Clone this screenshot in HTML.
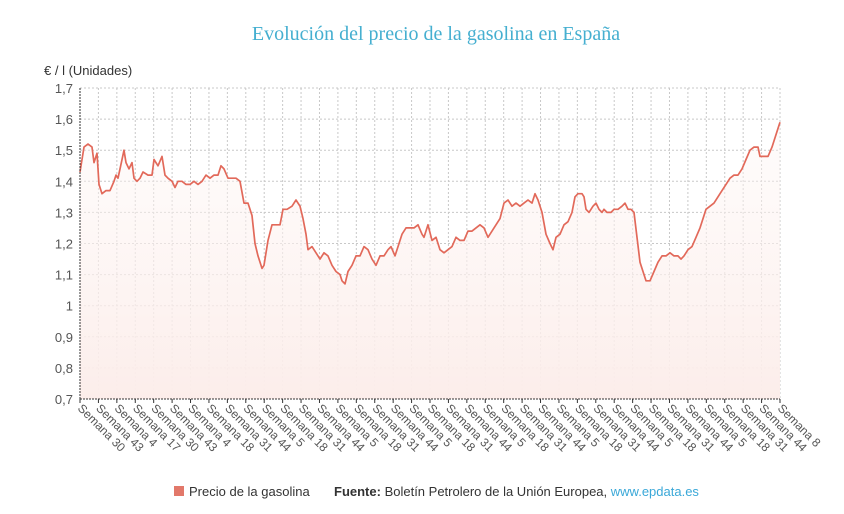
<!DOCTYPE html>
<html><head><meta charset="utf-8"><style>
body{margin:0;background:#fff;width:844px;height:509px;overflow:hidden;font-family:"Liberation Sans",sans-serif}
</style></head><body>
<svg id="s" width="844" height="509" xmlns="http://www.w3.org/2000/svg" font-family="Liberation Sans, sans-serif">
<defs><linearGradient id="g" x1="0" y1="0" x2="0" y2="1"><stop offset="0" stop-color="#fdf5f3" stop-opacity="0.3"/><stop offset="1" stop-color="#fcedea"/></linearGradient></defs>
<text x="436" y="40" text-anchor="middle" font-family="Liberation Serif, serif" font-size="20" fill="#45afd0">Evolución del precio de la gasolina en España</text>
<text x="44" y="75" font-size="13" fill="#333">€ / l (Unidades)</text>
<g id="grid"></g>
<path id="area" fill="url(#g)"/>
<path id="line" fill="none" stroke="#e2695a" stroke-width="1.7" stroke-linejoin="round"/>
<g id="ax"></g>
<rect x="174" y="486" width="10" height="10" fill="#e2786a"/>
<text x="189" y="496" font-size="13" fill="#333">Precio de la gasolina</text>
<text x="334" y="496" font-size="13" fill="#333"><tspan font-weight="bold">Fuente:</tspan> Boletín Petrolero de la Unión Europea, <tspan fill="#3aa8d8">www.epdata.es</tspan></text>
</svg>
<script>
var NS="http://www.w3.org/2000/svg";
function el(p,t,a,tx){var e=document.createElementNS(NS,t);for(var k in a)e.setAttribute(k,a[k]);if(tx)e.textContent=tx;p.appendChild(e);return e;}
var L=80,R=780,T=88,B=399;
function Y(v){return B-(v-0.7)*311;}
var grid=document.getElementById('grid'),ax=document.getElementById('ax');
var labs="30 43 4 17 30 43 4 18 31 44 5 18 31 44 5 18 31 44 5 18 31 44 5 18 31 44 5 18 31 44 5 18 31 44 5 18 31 44 8".split(" ");
var n=labs.length,dx=(R-L)/(n-1);
for(var i=0;i<n;i++){var x=L+i*dx;
 if(i>0)el(grid,'line',{x1:x,x2:x,y1:T,y2:B,stroke:'#c8c8c8','stroke-dasharray':'2,2'});
 el(ax,'line',{x1:x,x2:x,y1:B,y2:B+4,stroke:'#333'});
 el(ax,'text',{x:x-3,y:B+10,'font-size':12,fill:'#555',transform:'rotate(45 '+(x-3)+' '+(B+10)+')'},'Semana '+labs[i]);}
for(var v=0.7;v<1.75;v+=0.1){var y=Y(v);
 if(v>0.75)el(grid,'line',{x1:L,x2:R,y1:y,y2:y,stroke:'#c8c8c8','stroke-dasharray':'2,2'});
 var s=(Math.round(v*10)/10).toString().replace('.',',');
 el(ax,'text',{x:73,y:y+5,'text-anchor':'end','font-size':13,fill:'#555'},s);}
el(ax,'line',{x1:L,x2:L,y1:T,y2:B,stroke:'#333','stroke-dasharray':'2,1'});
el(ax,'line',{x1:L,x2:R,y1:B,y2:B,stroke:'#333','stroke-dasharray':'2,1'});
var d=[80,1.43,84,1.51,88,1.52,92,1.51,94,1.46,97,1.49,99,1.39,102,1.36,106,1.37,110,1.37,114,1.40,116,1.42,118,1.41,120,1.44,124,1.50,126,1.46,129,1.44,132,1.46,134,1.41,137,1.40,140,1.41,143,1.43,148,1.42,152,1.42,154,1.47,158,1.45,162,1.48,165,1.42,168,1.41,172,1.40,175,1.38,178,1.40,182,1.40,186,1.39,190,1.39,194,1.40,198,1.39,202,1.40,206,1.42,210,1.41,214,1.42,218,1.42,221,1.45,224,1.44,228,1.41,232,1.41,236,1.41,240,1.40,244,1.33,248,1.33,252,1.29,255,1.20,258,1.16,262,1.12,264,1.13,268,1.21,272,1.26,276,1.26,280,1.26,283,1.31,287,1.31,292,1.32,296,1.34,300,1.32,303,1.28,306,1.23,308,1.18,312,1.19,316,1.17,320,1.15,324,1.17,328,1.16,332,1.13,336,1.11,340,1.10,342,1.08,345,1.07,348,1.11,352,1.13,356,1.16,360,1.16,364,1.19,368,1.18,372,1.15,376,1.13,380,1.16,384,1.16,388,1.18,391,1.19,395,1.16,398,1.19,402,1.23,406,1.25,410,1.25,414,1.25,418,1.26,422,1.23,424,1.22,428,1.26,432,1.21,436,1.22,440,1.18,444,1.17,448,1.18,452,1.19,456,1.22,460,1.21,464,1.21,468,1.24,472,1.24,476,1.25,480,1.26,484,1.25,488,1.22,492,1.24,496,1.26,500,1.28,504,1.33,508,1.34,512,1.32,516,1.33,520,1.32,524,1.33,528,1.34,532,1.33,535,1.36,538,1.34,542,1.30,546,1.23,550,1.20,553,1.18,556,1.22,560,1.23,564,1.26,568,1.27,572,1.30,575,1.35,578,1.36,582,1.36,584,1.35,586,1.31,589,1.30,593,1.32,596,1.33,599,1.31,602,1.30,604,1.31,607,1.30,611,1.30,614,1.31,618,1.31,622,1.32,625,1.33,628,1.31,631,1.31,634,1.30,637,1.22,640,1.14,643,1.11,646,1.08,650,1.08,654,1.11,658,1.14,662,1.16,666,1.16,670,1.17,674,1.16,678,1.16,681,1.15,684,1.16,688,1.18,692,1.19,696,1.22,700,1.25,703,1.28,706,1.31,710,1.32,714,1.33,718,1.35,722,1.37,726,1.39,730,1.41,734,1.42,738,1.42,742,1.44,746,1.47,750,1.50,754,1.51,758,1.51,760,1.48,764,1.48,768,1.48,772,1.51,776,1.55,780,1.59];
var p="";for(var i=0;i<d.length;i+=2)p+=(i?"L":"M")+d[i]+","+Y(d[i+1]).toFixed(1);
document.getElementById('line').setAttribute('d',p);
document.getElementById('area').setAttribute('d',p+"L780,"+B+"L80,"+B+"Z");
</script>
</body></html>
